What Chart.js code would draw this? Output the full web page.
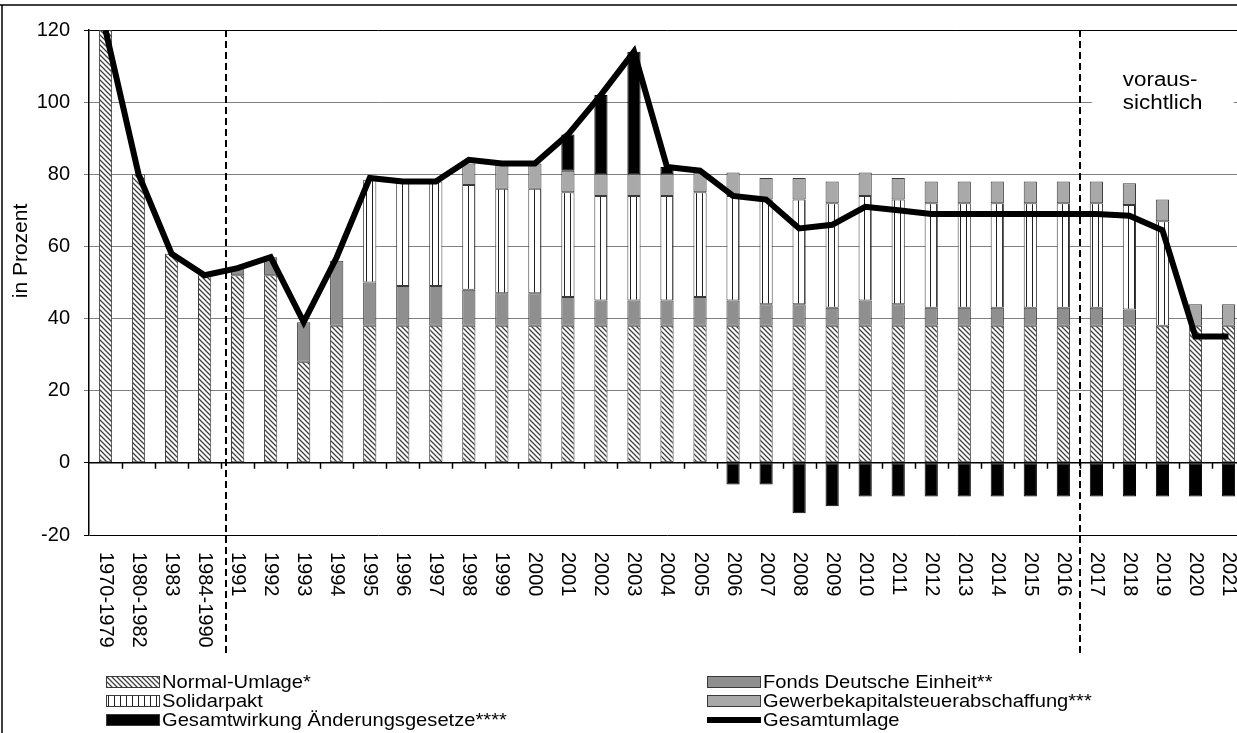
<!doctype html>
<html>

<head>
  <title>Umlage</title>
  <script src="https://cdn.jsdelivr.net/npm/chart.js@4/dist/chart.umd.min.js"></script>
</head>
<style>
  body {
    margin: 0;
    overflow: hidden;
    background: #fff;
  }

  .chartContainer {
    position: relative;
    width: 1250px;
    height: 733px;
  }
</style>

<body>
  <div class="chartContainer">
    <canvas id="umlageId" width="1250" height="733"></canvas>
  </div>
  <script>
    var labels = ['1970-1979', '1980-1982', '1983', '1984-1990', '1991', '1992', '1993', '1994', '1995', '1996',
      '1997', '1998', '1999', '2000', '2001', '2002', '2003', '2004', '2005', '2006', '2007', '2008', '2009',
      '2010', '2011', '2012', '2013', '2014', '2015', '2016', '2017', '2018', '2019', '2020', '2021'];

    var normalUmlage = [120, 80, 58, 52, 52, 52, 28, 38, 38, 38, 38, 38, 38, 38, 38, 38, 38, 38, 38, 38, 38, 38,
      38, 38, 38, 38, 38, 38, 38, 38, 38, 38, 38, 38, 38];
    var fondsEinheit = [0, 0, 0, 0, 2, 5, 11, 18, 12, 11, 11, 10, 9, 9, 8, 7, 7, 7, 8, 7, 6, 6, 5, 7, 6, 5, 5, 5,
      5, 5, 5, 4.5, 0, 0, 0];
    var solidarpakt = [0, 0, 0, 0, 0, 0, 0, 0, 28.5, 29.5, 29, 29, 29, 29, 29, 29, 29, 29, 29, 29, 29, 29, 29, 29,
      29, 29, 29, 29, 29, 29, 29, 29, 29, 0, 0];
    var gewerbekapital = [0, 0, 0, 0, 0, 0, 0, 0, 0, 0, 0, 6, 6.5, 7, 6, 6, 6, 6, 5.5, 6.5, 6, 6, 6, 6.5, 6, 6, 6,
      6, 6, 6, 6, 6, 6, 6, 6];
    var aenderungen = [0, 0, 0, 0, 0, 0, 0, 0, 0, 0, 0, 0, 0, 0, 10, 22, 34, 2, 0, -6, -6, -14, -12, -9.3, -9.3,
      -9.3, -9.3, -9.3, -9.3, -9.3, -9.3, -9.3, -9.3, -9.3, -9.3];
    var gesamtumlage = [120, 80, 58, 52, 54, 57, 39, 57, 79, 78, 78, 84, 83, 83, 91, 102, 114, 82, 81, 74, 73, 65,
      66, 71, 70, 69, 69, 69, 69, 69, 69, 68.5, 64.5, 35, 35];

    var yTicks = [-20, 0, 20, 40, 60, 80, 100, 120];
    var periodLines = [3.64, 29.5];

    var FONT = '"Liberation Sans", Arial, sans-serif';
    Chart.defaults.font.family = FONT;
    Chart.defaults.color = '#000';

    var ctx = document.getElementById('umlageId').getContext('2d');

    function hatchPattern() {
      var c = document.createElement('canvas');
      c.width = 5; c.height = 5;
      var g = c.getContext('2d');
      g.fillStyle = '#fff';
      g.fillRect(0, 0, 5, 5);
      g.strokeStyle = '#404040';
      g.lineWidth = 1.3;
      g.beginPath();
      g.moveTo(-1, -1); g.lineTo(6, 6);
      g.moveTo(-1, 4); g.lineTo(1, 6);
      g.moveTo(4, -1); g.lineTo(6, 1);
      g.stroke();
      return ctx.createPattern(c, 'repeat');
    }

    function stripePattern() {
      var c = document.createElement('canvas');
      c.width = 6; c.height = 2;
      var g = c.getContext('2d');
      g.fillStyle = '#fff';
      g.fillRect(0, 0, 6, 2);
      g.fillStyle = '#202020';
      g.fillRect(0, 0, 1, 2);
      return ctx.createPattern(c, 'repeat');
    }

    var hatch = hatchPattern();
    var stripes = stripePattern();

    function barSet(label, data, fill, edge) {
      return {
        label: label,
        data: data,
        backgroundColor: fill,
        borderColor: edge || '#3a3a3a',
        borderWidth: 1,
        borderSkipped: false,
        barPercentage: 0.4,
        categoryPercentage: 1,
        stack: 'bars',
        order: 1
      };
    }

    function stretchText(c, text, x, y, sx) {
      c.save();
      c.translate(x, y);
      c.scale(sx, 1);
      c.fillText(text, 0, 0);
      c.restore();
    }

    var legendItems = [
      { text: 'Normal-Umlage*', fill: hatch, col: 0, row: 0 },
      { text: 'Fonds Deutsche Einheit**', fill: '#8f8f8f', col: 1, row: 0 },
      { text: 'Solidarpakt', fill: stripes, col: 0, row: 1 },
      { text: 'Gewerbekapitalsteuerabschaffung***', fill: '#a9a9a9', col: 1, row: 1 },
      { text: 'Gesamtwirkung \u00c4nderungsgesetze****', fill: '#000', col: 0, row: 2 },
      { text: 'Gesamtumlage', line: true, col: 1, row: 2 }
    ];

    var extras = {
      id: 'extras',
      afterDraw: function (chart) {
        var c = chart.ctx, xs = chart.scales.x, ys = chart.scales.y, area = chart.chartArea;
        var i;
        c.save();

        // zero line with category ticks
        var y0 = ys.getPixelForValue(0);
        c.strokeStyle = '#000';
        c.lineWidth = 1.5;
        c.beginPath();
        c.moveTo(area.left, y0);
        c.lineTo(area.right, y0);
        for (i = 1; i < labels.length; i++) {
          var bx = Math.round(xs.getPixelForValue(i - 0.5)) + 0.5;
          c.moveTo(bx, y0);
          c.lineTo(bx, y0 + 6);
        }
        c.stroke();

        // category labels, turned clockwise
        c.fillStyle = '#000';
        c.font = '20px ' + FONT;
        c.textAlign = 'left';
        c.textBaseline = 'middle';
        for (i = 0; i < labels.length; i++) {
          c.save();
          c.translate(xs.getPixelForValue(i), area.bottom + 17);
          c.rotate(Math.PI / 2);
          c.fillText(labels[i], 0, 0);
          c.restore();
        }

        // dashed period separators
        c.strokeStyle = '#000';
        c.lineWidth = 2;
        c.setLineDash([7, 4]);
        periodLines.forEach(function (v) {
          var px = Math.round(xs.getPixelForValue(v));
          c.beginPath();
          c.moveTo(px, area.top);
          c.lineTo(px, 657);
          c.stroke();
        });
        c.setLineDash([]);

        // forecast note
        var nx = xs.getPixelForValue(30.8);
        var ny = ys.getPixelForValue(100);
        c.fillStyle = '#fff';
        c.fillRect(nx - 31, ny - 44, 142, 60);
        c.fillStyle = '#000';
        c.font = '20px ' + FONT;
        c.textBaseline = 'middle';
        stretchText(c, 'voraus-', nx, ny - 22, 1.12);
        stretchText(c, 'sichtlich', nx, ny + 1, 1.12);

        // axis title
        c.save();
        c.translate(21, 251);
        c.rotate(-Math.PI / 2);
        c.textAlign = 'center';
        c.font = '21px ' + FONT;
        c.fillText('in Prozent', 0, 0);
        c.restore();

        // legend
        c.font = '19px ' + FONT;
        c.textAlign = 'left';
        legendItems.forEach(function (it) {
          var sx = it.col === 0 ? 106 : 707;
          var cy = 682 + it.row * 19;
          if (it.line) {
            c.fillStyle = '#000';
            c.fillRect(sx, cy - 3, 54, 6);
          } else {
            c.fillStyle = it.fill;
            c.fillRect(sx, cy - 6, 54, 12);
            c.strokeStyle = '#3a3a3a';
            c.lineWidth = 1;
            c.strokeRect(sx + 0.5, cy - 5.5, 53, 11);
          }
          c.fillStyle = '#000';
          stretchText(c, it.text, sx + 56, cy + 1, 1.06);
        });

        // outer frame
        c.strokeStyle = '#000';
        c.lineWidth = 1.5;
        c.beginPath();
        c.moveTo(0, 5);
        c.lineTo(chart.width, 5);
        c.moveTo(2, 5);
        c.lineTo(2, chart.height);
        c.stroke();

        c.restore();
      }
    };

    function gridColor(context) {
      var v = context.tick ? context.tick.value : null;
      return (v === -20 || v === 0 || v === 120) ? '#000' : '#808080';
    }

    new Chart(ctx, {
      type: 'bar',
      data: {
        labels: labels,
        datasets: [
          {
            type: 'line',
            label: 'Gesamtumlage',
            data: gesamtumlage,
            borderColor: '#000',
            borderWidth: 6,
            pointRadius: 0,
            tension: 0,
            fill: false,
            stack: 'total',
            order: 0
          },
          barSet('Normal-Umlage*', normalUmlage, hatch),
          barSet('Fonds Deutsche Einheit**', fondsEinheit, '#8f8f8f'),
          barSet('Solidarpakt', solidarpakt, stripes),
          barSet('Gewerbekapitalsteuerabschaffung***', gewerbekapital, '#a9a9a9'),
          barSet('Gesamtwirkung \u00c4nderungsgesetze****', aenderungen, '#000', '#000')
        ]
      },
      options: {
        responsive: false,
        animation: false,
        devicePixelRatio: 1,
        layout: { padding: { top: 30, right: 5, bottom: 198, left: 0 } },
        plugins: {
          legend: { display: false },
          tooltip: { enabled: false }
        },
        scales: {
          x: {
            display: false,
            stacked: true,
            offset: true
          },
          y: {
            stacked: true,
            min: -20,
            max: 120,
            afterBuildTicks: function (scale) {
              scale.ticks = yTicks.map(function (v) { return { value: v }; });
            },
            afterFit: function (scale) { scale.width = 89; },
            ticks: {
              font: { size: 20 },
              color: '#000',
              padding: 14
            },
            grid: {
              color: gridColor,
              lineWidth: 1,
              tickLength: 5
            },
            border: { display: true, color: '#000', width: 1.5 }
          }
        }
      },
      plugins: [extras]
    });
  </script>
</body>

</html>
